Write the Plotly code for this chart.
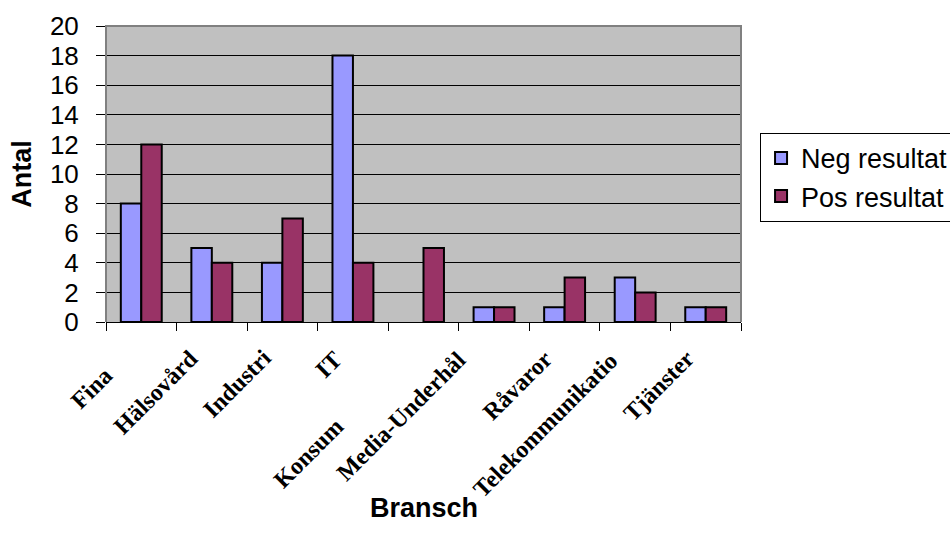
import plotly.graph_objects as go

# Branscher och antal bolag med negativt/positivt resultat
categories = ["Finans", "Hälsovård", "Industri", "IT", "Konsument",
              "Media-Underhållning", "Råvaror", "Telekommunikation", "Tjänster"]
tick_labels = ["Fina", "Hälsovård", "Industri", "IT", "Konsum",
               "Media-Underhål", "Råvaror", "Telekommunikatio", "Tjänster"]
neg_resultat = [8, 5, 4, 18, 0, 1, 1, 3, 1]
pos_resultat = [12, 4, 7, 4, 5, 1, 3, 2, 1]
y_ticks = list(range(0, 21, 2))

# label placement (pixel offsets from the category centre at y=0)
label_offsets = [(-21, -37), (-6, -20), (-4, -20), (-4, -22), (-72, -88),
                 (-20, -22), (-4, -20), (-10, -23), (-4, -21)]

SANS = "Arial, Liberation Sans, sans-serif"
SERIF = "Times New Roman, Liberation Serif, serif"


def outline_widths(values):
    # no outline for empty bars so nothing is drawn on the axis
    return [0 if v == 0 else 2 for v in values]


fig = go.Figure()
fig.add_trace(go.Bar(
    x=categories, y=neg_resultat, name="Neg resultat",
    marker=dict(color="#9999FF",
                line=dict(color="black", width=outline_widths(neg_resultat))),
))
fig.add_trace(go.Bar(
    x=categories, y=pos_resultat, name="Pos resultat",
    marker=dict(color="#993366",
                line=dict(color="black", width=outline_widths(pos_resultat))),
))

annotations = []
for cat, lab, (dx, dy) in zip(categories, tick_labels, label_offsets):
    annotations.append(dict(
        x=cat, y=0, xref="x", yref="y", text=f"<b>{lab}</b>",
        showarrow=False, textangle=-45, xanchor="right", yanchor="top",
        xshift=dx, yshift=dy, font=dict(family=SERIF, size=24, color="black"),
    ))
annotations.append(dict(
    x=0.5, y=0, xref="paper", yref="paper", text="<b>Bransch</b>",
    showarrow=False, xanchor="center", yanchor="middle", yshift=-186,
    font=dict(family=SANS, size=27, color="black"),
))

fig.update_layout(
    width=950, height=548,
    margin=dict(l=106, r=209, t=26, b=226, autoexpand=False),
    paper_bgcolor="white", plot_bgcolor="#C0C0C0",
    barmode="group", bargap=0.42, bargroupgap=0,
    showlegend=True,
    legend=dict(
        x=1.03, y=0.639, xanchor="left", yanchor="top",
        bgcolor="white", bordercolor="black", borderwidth=1,
        font=dict(family=SANS, size=27, color="black"),
        tracegroupgap=0,
    ),
    annotations=annotations,
    shapes=[dict(
        type="path", xref="paper", yref="paper",
        path="M 0,0 L 0,1 L 1,1 L 1,0",
        line=dict(color="#808080", width=2), layer="above",
    )],
)

fig.update_xaxes(
    range=[-0.5, len(categories) - 0.5],
    showticklabels=False, tickson="boundaries", ticks="outside",
    ticklen=8, tickcolor="black", tickwidth=1,
    showline=True, linecolor="black", linewidth=1,
    showgrid=False, zeroline=False,
)
fig.update_yaxes(
    range=[0, 20], tickvals=y_ticks, ticks="outside", ticklen=9,
    tickcolor="black", tickwidth=1,
    showgrid=True, gridcolor="black", gridwidth=1, zeroline=False,
    showline=False,
    tickfont=dict(family=SANS, size=26, color="black"),
    ticklabelstandoff=12,
    title=dict(text="<b>Antal</b>", font=dict(family=SANS, size=27, color="black"),
               standoff=10),
)

fig.write_html("out.html")
